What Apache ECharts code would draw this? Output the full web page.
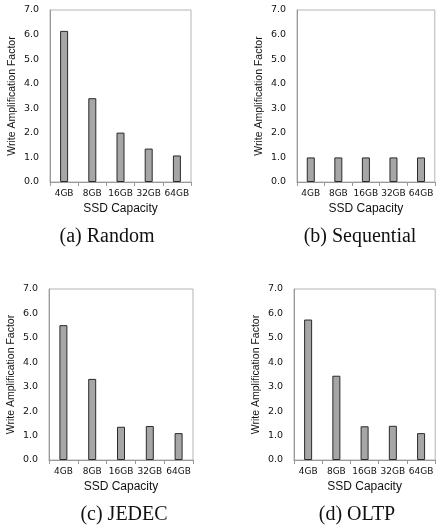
<!DOCTYPE html>
<html><head><meta charset="utf-8">
<script src="https://cdn.jsdelivr.net/npm/echarts@6/dist/echarts.min.js"></script>
<style>html,body{margin:0;padding:0;background:#fff}#c{width:436px;height:529px}</style>
</head><body><div id="c"></div>
<script>
var categories = ['4GB', '8GB', '16GB', '32GB', '64GB'];
var randomVals = [6.15, 3.41, 2.01, 1.36, 1.08];
var sequentialVals = [1.0, 1.0, 1.0, 1.0, 1.0];
var jedecVals = [5.52, 3.32, 1.36, 1.39, 1.1];
var oltpVals = [5.75, 3.45, 1.38, 1.4, 1.1];
var yTicks = [0, 1, 2, 3, 4, 5, 6, 7];
var captions = ['(a) Random', '(b) Sequential', '(c) JEDEC', '(d) OLTP'];
var yName = 'Write Amplification Factor';
var xName = 'SSD Capacity';

var grids = [
  {left: 50, top: 10, width: 141, height: 172},
  {left: 297, top: 10, width: 141, height: 172},
  {left: 49, top: 289, width: 144, height: 171},
  {left: 294, top: 289, width: 145, height: 171}
];
var capPos = [[107, 237], [360, 237], [124, 515], [357, 515]];
var datasets = [randomVals, sequentialVals, jedecVals, oltpVals];

var option = {
  animation: false,
  grid: grids.map(function (g) {
    return Object.assign({show: true, borderColor: '#b4b4b4', borderWidth: 1, backgroundColor: 'transparent'}, g);
  }),
  xAxis: grids.map(function (g, i) {
    return {
      type: 'category', gridIndex: i, data: categories,
      name: xName, nameLocation: 'middle', nameGap: 21,
      nameTextStyle: {fontFamily: 'Liberation Sans', fontSize: 12, color: '#111'},
      axisLine: {lineStyle: {color: '#999', width: 1}},
      axisTick: {show: true, alignWithLabel: false, length: 4, lineStyle: {color: '#999'}},
      axisLabel: {interval: 0, margin: 7, fontFamily: 'DejaVu Sans', fontSize: 9, color: '#111'},
      splitLine: {show: false}
    };
  }),
  yAxis: grids.map(function (g, i) {
    return {
      type: 'value', gridIndex: i, min: yTicks[0], max: yTicks[yTicks.length - 1], interval: 1,
      name: yName, nameLocation: 'middle', nameGap: 32,
      nameTextStyle: {fontFamily: 'Liberation Sans', fontSize: 10.5, color: '#111'},
      axisLine: {show: true, lineStyle: {color: '#999', width: 1}},
      axisTick: {show: false},
      axisLabel: {margin: 11, fontFamily: 'DejaVu Sans', fontSize: 9.5, color: '#111',
        formatter: function (v) { return v.toFixed(1); }},
      splitLine: {show: false}
    };
  }),
  series: datasets.map(function (d, i) {
    return {
      type: 'bar', xAxisIndex: i, yAxisIndex: i, data: d, barWidth: 8,
      itemStyle: {color: '#a6a6a6', borderColor: '#2a2a2a', borderWidth: 1}
    };
  }),
  graphic: captions.map(function (t, i) {
    return {
      type: 'text', x: capPos[i][0], y: capPos[i][1],
      style: {text: t, fontFamily: 'Liberation Serif', fontSize: 20, fill: '#111',
        textAlign: 'center', textVerticalAlign: 'middle'}
    };
  })
};
var chart = echarts.init(document.getElementById('c'), null, {renderer: 'canvas'});
chart.setOption(option);
</script>
</body></html>
